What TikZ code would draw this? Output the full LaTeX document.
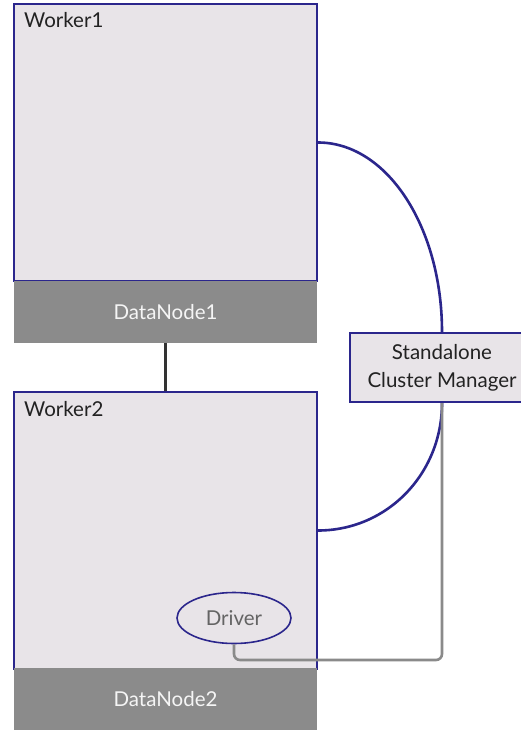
\documentclass[tikz,border=0pt]{standalone}
\usepackage{fontspec}
\setmainfont{Lato}
\usetikzlibrary{calc,shapes.geometric}
\definecolor{frame}{RGB}{43,38,140}
\definecolor{boxfill}{RGB}{232,228,232}
\definecolor{storage}{RGB}{139,139,139}
\definecolor{wire}{RGB}{138,138,138}
\definecolor{ink}{RGB}{34,34,34}
\tikzset{
  worker/.style={draw=frame, line width=2pt, fill=boxfill, minimum width=303pt, minimum height=277pt, inner sep=0pt},
  datanode/.style={fill=storage, minimum width=303pt, minimum height=62pt, inner sep=0pt, text={rgb,255:red,245;green,245;blue,245}, font=\fontsize{20.5}{24}\selectfont},
  boxlabel/.style={anchor=base west, inner sep=0pt, text=ink, font=\fontsize{20.5}{24}\selectfont},
  manager/.style={draw=frame, line width=2pt, fill=boxfill, minimum width=184pt, minimum height=69pt, align=center, text=ink, font=\fontsize{20.5}{28}\selectfont},
  driver/.style={ellipse, draw=frame, line width=1.6pt, fill=boxfill, minimum width=114pt, minimum height=51pt, inner sep=0pt, text={rgb,255:red,100;green,100;blue,100}, font=\fontsize{20.5}{24}\selectfont},
  control/.style={draw=frame, line width=2.6pt},
  dataline/.style={draw=wire, line width=2.6pt, rounded corners=6pt},
  link/.style={draw={rgb,255:red,51;green,51;blue,51}, line width=2.6pt}
}
\begin{document}
\begin{tikzpicture}[x=1pt, y=-1pt]
  \useasboundingbox (0,0) rectangle (521,730);
  \fill[white] (0,0) rectangle (521,730);

  % worker machines with their storage nodes
  \node[worker] (w1) at (165.5,142.5) {};
  \node[datanode] (dn1) at (165.5,312) {DataNode1};
  \node[boxlabel] (w1label) at (24,28) {Worker1};

  \node[worker] (w2) at (165.5,530.5) {};
  \node[datanode] (dn2) at (165.5,699) {DataNode2};
  \node[boxlabel] (w2label) at (24,416) {Worker2};

  % cluster manager, partly beyond the right edge
  \node[manager] (mgr) at (442,367.5) {Standalone\\Cluster Manager};

  % driver inside Worker2
  \node[driver] (drv) at (234,618) {Driver};

  % link between the storage nodes
  \draw[link] (dn1.south) -- (w2.north);

  % manager to workers
  \draw[control] (w1.east) .. controls ($(w1.east)+(69,0)$) and ($(mgr.north)+(0,-105)$) .. (mgr.north);
  \draw[control] (mgr.south) .. controls ($(mgr.south)+(0,71)$) and ($(w2.east)+(69,0)$) .. (w2.east);

  % driver to manager
  \coordinate (lowrun) at (0,660);
  \draw[dataline] (mgr.south) -- (mgr.south |- lowrun) -- (drv.south |- lowrun) -- (drv.south);
\end{tikzpicture}
\end{document}
